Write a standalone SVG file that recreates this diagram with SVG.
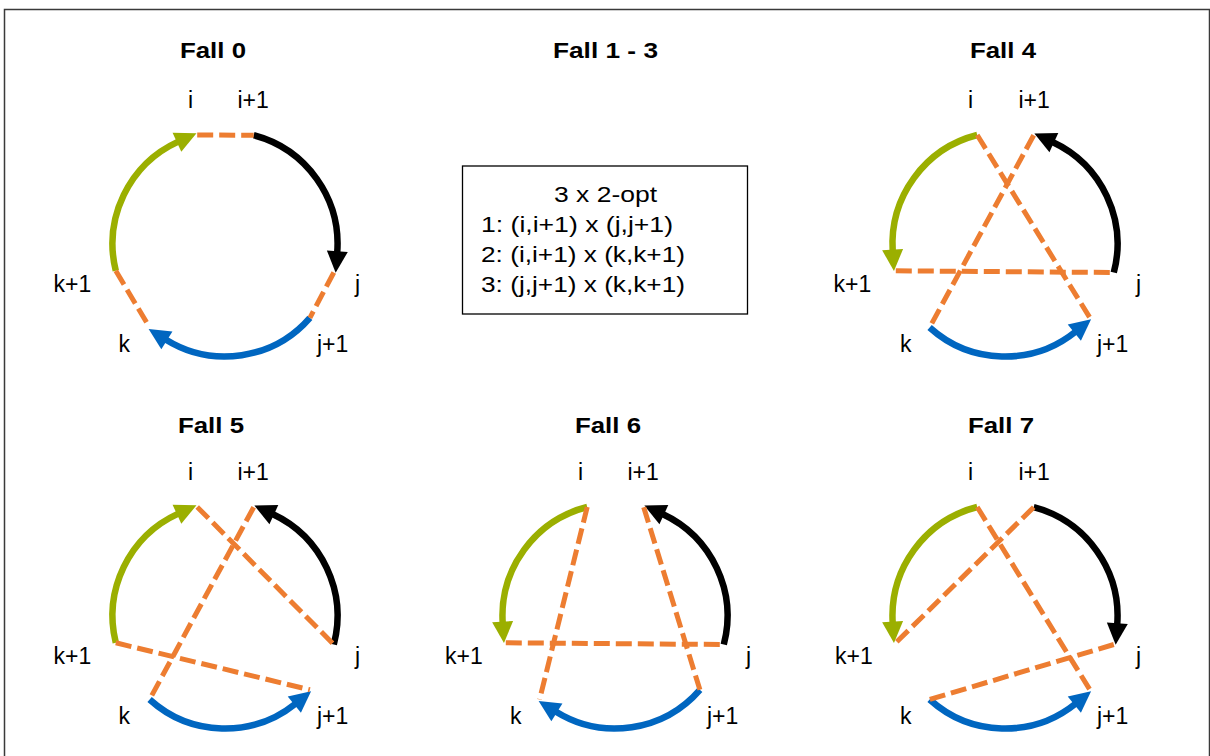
<svg xmlns="http://www.w3.org/2000/svg" width="1210" height="756" viewBox="0 0 1210 756">
  <style>
    .title { font-family: "Liberation Sans", Arial, sans-serif; font-weight: bold; font-size: 22px; fill: #000; }
    .lbl { font-family: "Liberation Sans", Arial, sans-serif; font-size: 23px; fill: #000; }
    .box { font-family: "Liberation Sans", Arial, sans-serif; font-size: 22px; fill: #000; }
    .arc { fill: none; stroke-width: 6.5; stroke-linecap: butt; }
    .g { stroke: #9BAF00; marker-end: url(#ah-green); }
    .k { stroke: #000000; marker-end: url(#ah-black); }
    .b { stroke: #0066C0; marker-end: url(#ah-blue); }
    .d { fill: none; stroke: #ED7D31; stroke-width: 5; stroke-dasharray: 16 6; stroke-linecap: butt; }
  </style>
  <defs>
    <marker id="ah-green" markerUnits="userSpaceOnUse" markerWidth="24" markerHeight="24" viewBox="-2 -12 24 24" refX="0" refY="0" orient="auto" overflow="visible">
      <path d="M-1.5,-10.5 L20,0 L-1.5,10.5 Z" fill="#9BAF00"/>
    </marker>
    <marker id="ah-black" markerUnits="userSpaceOnUse" markerWidth="24" markerHeight="24" viewBox="-2 -12 24 24" refX="0" refY="0" orient="auto" overflow="visible">
      <path d="M-1.5,-10.5 L20,0 L-1.5,10.5 Z" fill="#000000"/>
    </marker>
    <marker id="ah-blue" markerUnits="userSpaceOnUse" markerWidth="24" markerHeight="24" viewBox="-2 -12 24 24" refX="0" refY="0" orient="auto" overflow="visible">
      <path d="M-1.5,-10.5 L20,0 L-1.5,10.5 Z" fill="#0066C0"/>
    </marker>
  </defs>

  <rect width="1210" height="756" fill="#ffffff"/>
  <rect x="4.5" y="9.5" width="1205" height="760" fill="none" stroke="#3a3a3a" stroke-width="1.5"/>

  <!-- Fall 0 -->
  <g id="fall-0">
    <text class="title" x="180" y="58" textLength="66" lengthAdjust="spacingAndGlyphs">Fall 0</text>
    <g id="fall-0-nodes">
      <text class="lbl" x="188" y="108">i</text>
      <text class="lbl" x="237.5" y="108">i+1</text>
      <text class="lbl" x="355" y="292">j</text>
      <text class="lbl" x="53.5" y="292">k+1</text>
      <text class="lbl" x="118.5" y="352">k</text>
      <text class="lbl" x="317" y="352">j+1</text>
    </g>
    <g id="fall-0-connectors">
      <path class="arc g" d="M115.8,270.8 A112.5,112.5 0 0 1 178.3,141.6"/>
      <path class="arc k" d="M253.7,135.2 A112.5,112.5 0 0 1 337.2,252.7"/>
      <path class="arc b" d="M309.9,317.8 A112.5,112.5 0 0 1 165.6,339.5"/>
      <line class="d" x1="197.2" y1="135" x2="253.7" y2="135.2"/>
      <line class="d" x1="333.8" y1="272.5" x2="309.9" y2="317.8"/>
      <line class="d" x1="115.8" y1="270.8" x2="149.6" y2="327.5"/>
    </g>
  </g>

  <!-- Fall 1 - 3 -->
  <g id="fall-1-3">
    <text class="title" x="553" y="58" textLength="105" lengthAdjust="spacingAndGlyphs">Fall 1 - 3</text>
    <g id="fall-1-3-box">
      <rect x="462.5" y="166" width="285" height="148" fill="#ffffff" stroke="#000000" stroke-width="1.3"/>
      <text class="box" x="554" y="202" textLength="103" lengthAdjust="spacingAndGlyphs">3 x 2-opt</text>
      <text class="box" x="481" y="232" textLength="192" lengthAdjust="spacingAndGlyphs">1: (i,i+1) x (j,j+1)</text>
      <text class="box" x="481" y="262" textLength="204" lengthAdjust="spacingAndGlyphs">2: (i,i+1) x (k,k+1)</text>
      <text class="box" x="481" y="292" textLength="204" lengthAdjust="spacingAndGlyphs">3: (j,j+1) x (k,k+1)</text>
    </g>
  </g>

  <!-- Fall 4 -->
  <g id="fall-4" transform="translate(780,0)">
    <text class="title" x="190" y="58" textLength="66" lengthAdjust="spacingAndGlyphs">Fall 4</text>
    <g id="fall-4-nodes">
      <text class="lbl" x="188" y="108">i</text>
      <text class="lbl" x="238.5" y="108">i+1</text>
      <text class="lbl" x="356" y="292">j</text>
      <text class="lbl" x="53.5" y="292">k+1</text>
      <text class="lbl" x="120" y="352">k</text>
      <text class="lbl" x="317" y="352">j+1</text>
    </g>
    <g id="fall-4-connectors">
      <path class="arc g" d="M197.2,135 A112.5,112.5 0 0 0 112.7,251.1"/>
      <path class="arc k" d="M333.8,272.5 A112.5,112.5 0 0 0 272.5,142"/>
      <path class="arc b" d="M149.6,327.5 A112.5,112.5 0 0 0 295.5,331.7"/>
      <line class="d" x1="197.2" y1="135" x2="309.9" y2="317.8"/>
      <line class="d" x1="253.7" y1="135.2" x2="149.6" y2="327.5"/>
      <line class="d" x1="115.8" y1="270.8" x2="333.8" y2="272.5"/>
    </g>
  </g>

  <!-- Fall 5 -->
  <g id="fall-5" transform="translate(0,372)">
    <text class="title" x="178" y="61" textLength="66" lengthAdjust="spacingAndGlyphs">Fall 5</text>
    <g id="fall-5-nodes">
      <text class="lbl" x="188" y="108">i</text>
      <text class="lbl" x="237.5" y="108">i+1</text>
      <text class="lbl" x="355" y="292">j</text>
      <text class="lbl" x="53.5" y="292">k+1</text>
      <text class="lbl" x="118.5" y="352">k</text>
      <text class="lbl" x="317" y="352">j+1</text>
    </g>
    <g id="fall-5-connectors">
      <path class="arc g" d="M115.8,270.8 A112.5,112.5 0 0 1 178.3,141.6"/>
      <path class="arc k" d="M333.8,272.5 A112.5,112.5 0 0 0 272.5,142"/>
      <path class="arc b" d="M149.6,327.5 A112.5,112.5 0 0 0 295.5,331.7"/>
      <line class="d" x1="197.2" y1="135" x2="333.8" y2="272.5"/>
      <line class="d" x1="253.7" y1="135.2" x2="149.6" y2="327.5"/>
      <line class="d" x1="115.8" y1="270.8" x2="309.9" y2="317.8"/>
    </g>
  </g>

  <!-- Fall 6 -->
  <g id="fall-6" transform="translate(390,372)">
    <text class="title" x="185" y="61" textLength="66" lengthAdjust="spacingAndGlyphs">Fall 6</text>
    <g id="fall-6-nodes">
      <text class="lbl" x="188" y="108">i</text>
      <text class="lbl" x="237.5" y="108">i+1</text>
      <text class="lbl" x="356" y="292">j</text>
      <text class="lbl" x="55" y="292">k+1</text>
      <text class="lbl" x="120" y="352">k</text>
      <text class="lbl" x="317" y="352">j+1</text>
    </g>
    <g id="fall-6-connectors">
      <path class="arc g" d="M197.2,135 A112.5,112.5 0 0 0 112.7,251.1"/>
      <path class="arc k" d="M333.8,272.5 A112.5,112.5 0 0 0 272.5,142"/>
      <path class="arc b" d="M309.9,317.8 A112.5,112.5 0 0 1 165.6,339.5"/>
      <line class="d" x1="197.2" y1="135" x2="149.6" y2="327.5"/>
      <line class="d" x1="253.7" y1="135.2" x2="309.9" y2="317.8"/>
      <line class="d" x1="115.8" y1="270.8" x2="333.8" y2="272.5"/>
    </g>
  </g>

  <!-- Fall 7 -->
  <g id="fall-7" transform="translate(780,372)">
    <text class="title" x="188" y="61" textLength="66" lengthAdjust="spacingAndGlyphs">Fall 7</text>
    <g id="fall-7-nodes">
      <text class="lbl" x="188" y="108">i</text>
      <text class="lbl" x="238.5" y="108">i+1</text>
      <text class="lbl" x="356" y="292">j</text>
      <text class="lbl" x="55" y="292">k+1</text>
      <text class="lbl" x="120" y="352">k</text>
      <text class="lbl" x="317" y="352">j+1</text>
    </g>
    <g id="fall-7-connectors">
      <path class="arc g" d="M197.2,135 A112.5,112.5 0 0 0 112.7,251.1"/>
      <path class="arc k" d="M253.7,135.2 A112.5,112.5 0 0 1 337.2,252.7"/>
      <path class="arc b" d="M149.6,327.5 A112.5,112.5 0 0 0 295.5,331.7"/>
      <line class="d" x1="197.2" y1="135" x2="309.9" y2="317.8"/>
      <line class="d" x1="253.7" y1="135.2" x2="115.8" y2="270.8"/>
      <line class="d" x1="333.8" y1="272.5" x2="149.6" y2="327.5"/>
    </g>
  </g>
</svg>
